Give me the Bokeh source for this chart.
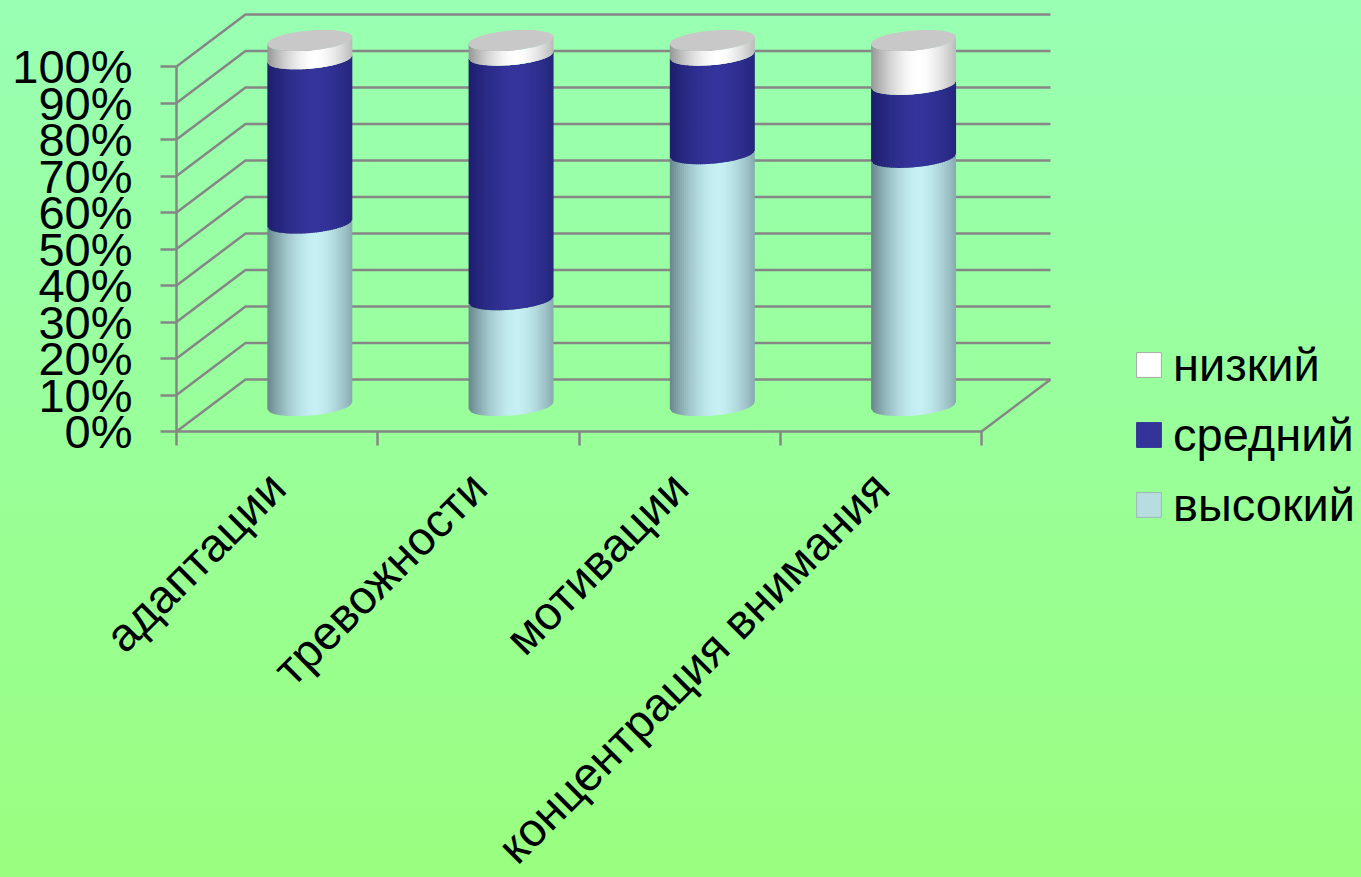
import math
from bokeh.plotting import figure
from bokeh.models import FixedTicker, LinearAxis, Range1d, Legend, LegendItem, PrintfTickFormatter, ColumnDataSource
from bokeh.embed import file_html
from bokeh.resources import INLINE

categories = ["адаптации", "тревожности", "мотивации", "концентрация внимания"]
high = [50, 29, 69, 68]
mid = [45, 67, 27, 20]
low = [5, 4, 4, 12]
y_ticks = [0, 10, 20, 30, 40, 50, 60, 70, 80, 90, 100]
series_names = ["низкий", "средний", "высокий"]

FONT = "Liberation Sans"
GRID = "#868686"
W, H = 1361, 877
ORIGIN_X, ORIGIN_Y = 176, 431   # where x=0, y=0 of the front plane sits on the canvas
PX_X = 805 / 4                  # pixels per category
PX_Y = 365 / 100                # pixels per percent
DEPTH_X = 69 / PX_X             # depth of the 3D box, in data units
DEPTH_Y = 52 / PX_Y

p = figure(width=W, height=H, output_backend="svg", toolbar_location=None,
           x_range=Range1d(-ORIGIN_X / PX_X, (W - ORIGIN_X) / PX_X),
           y_range=Range1d(-(H - ORIGIN_Y) / PX_Y, ORIGIN_Y / PX_Y),
           min_border_left=0, min_border_right=0, min_border_top=0, min_border_bottom=0,
           x_axis_type=None, y_axis_type=None)
p.background_fill_alpha = 0
p.border_fill_alpha = 0
p.outline_line_color = None
p.grid.visible = False
p.styles = {"background": "linear-gradient(180deg,#99ffb3 0%,#99ff80 100%)"}

# walls
wx, wy = [], []
for t in y_ticks:
    wx.append([0, DEPTH_X, 4 + DEPTH_X])
    wy.append([t, t + DEPTH_Y, t + DEPTH_Y])
wx.append([4, 4 + DEPTH_X])
wy.append([0, DEPTH_Y])
p.multi_line(wx, wy, line_color=GRID, line_width=2.5)


def shade(rgb, edge, t):
    f = min(1.0, abs((t - 0.12) / 1.12) ** 1.7)
    return "#%02x%02x%02x" % tuple(round(a + (b - a) * f) for a, b in zip(rgb, edge))


RX = 42.5 / PX_X
TILT = 3.5 / PX_Y
BULGE = 10.0 / PX_Y
STRIPS = 42
CX_SHIFT = -1.8 / PX_X


def rim(t):
    """Offset of the visible front rim of a level, in percent, at t in [-1, 1]."""
    return t * TILT - BULGE * math.sqrt(max(0.0, 1 - t * t))


palettes = {
    "high": ((198, 240, 244), (104, 134, 140)),
    "mid": ((52, 52, 156), (30, 30, 108)),
    "low": ((255, 255, 255), (150, 150, 150)),
}

sx, sy, sc = [], [], []
cap_x, cap_y = [], []
for i in range(len(categories)):
    cx = i + 0.5 + DEPTH_X / 2 + CX_SHIFT
    base = DEPTH_Y / 2
    level = 0
    for key, val in (("high", high[i]), ("mid", mid[i]), ("low", low[i])):
        v0, v1 = level, level + val
        level = v1
        for k in range(STRIPS):
            t0 = -1 + 2 * k / STRIPS
            t1 = -1 + 2 * (k + 1) / STRIPS
            tm = (t0 + t1) / 2
            te = min(1.0, t1 + 0.02)
            sx.append([cx + t0 * RX, cx + te * RX, cx + te * RX, cx + t0 * RX])
            sy.append([base + v0 + rim(t0), base + v0 + rim(te),
                       base + v1 + rim(te), base + v1 + rim(t0)])
            sc.append(shade(palettes[key][0], palettes[key][1], tm))
    angs = [2 * math.pi * a / 72 for a in range(72)]
    cap_x.append([cx + RX * math.cos(a) for a in angs])
    cap_y.append([base + level + TILT * math.cos(a) + BULGE * math.sin(a) for a in angs])

p.patches(sx, sy, fill_color=sc, line_color=None)
p.patches(cap_x, cap_y, fill_color="#c8c8c8", line_color=None)

# axes
yaxis = LinearAxis(ticker=FixedTicker(ticks=y_ticks), formatter=PrintfTickFormatter(format="%d%%"),
                   bounds=(0, 100), fixed_location=0)
yaxis.axis_line_color = GRID
yaxis.axis_line_width = 2.5
yaxis.major_tick_line_color = GRID
yaxis.major_tick_line_width = 2.5
yaxis.major_tick_out = 16
yaxis.major_tick_in = 0
yaxis.minor_tick_line_color = None
yaxis.major_label_standoff = 28
yaxis.major_label_text_font = FONT
yaxis.major_label_text_font_size = "47px"
yaxis.major_label_text_color = "#000000"
p.add_layout(yaxis, "left")

centres = [i + 0.5 for i in range(len(categories))]
xaxis = LinearAxis(ticker=FixedTicker(ticks=centres, minor_ticks=list(range(len(categories) + 1))),
                   bounds=(0, len(categories)), fixed_location=0)
xaxis.major_label_overrides = {c: n for c, n in zip(centres, categories)}
xaxis.axis_line_color = GRID
xaxis.axis_line_width = 2.5
xaxis.major_tick_line_color = None
xaxis.minor_tick_line_color = GRID
xaxis.minor_tick_line_width = 2.5
xaxis.minor_tick_out = 14
xaxis.minor_tick_in = 0
xaxis.major_label_orientation = math.pi / 4
xaxis.major_label_standoff = 34
xaxis.major_label_text_font = FONT
xaxis.major_label_text_font_size = "47px"
xaxis.major_label_text_color = "#000000"
p.add_layout(xaxis, "below")

# legend
nan = float("nan")
swatches = {
    "низкий": ("#ffffff", "#a8a8a8"),
    "средний": ("#333399", "#333399"),
    "высокий": ("#b7dde0", "#a0b8b8"),
}
items = []
for name in series_names:
    fill, edge = swatches[name]
    r = p.quad(left="left", right="right", top="top", bottom="bottom",
               source=ColumnDataSource(dict(left=[nan], right=[nan], top=[nan], bottom=[nan])),
               fill_color=fill, line_color=edge, line_width=1)
    items.append(LegendItem(label=name, renderers=[r]))
legend = Legend(items=items, location=(1133, 345), orientation="vertical",
                glyph_width=31, glyph_height=31, label_standoff=9, spacing=15,
                padding=0, margin=0, border_line_color=None, background_fill_alpha=0,
                label_text_font=FONT, label_text_font_size="47px", label_text_color="#000000")
p.add_layout(legend, "center")

open("out.html", "w").write(file_html(p, INLINE))
